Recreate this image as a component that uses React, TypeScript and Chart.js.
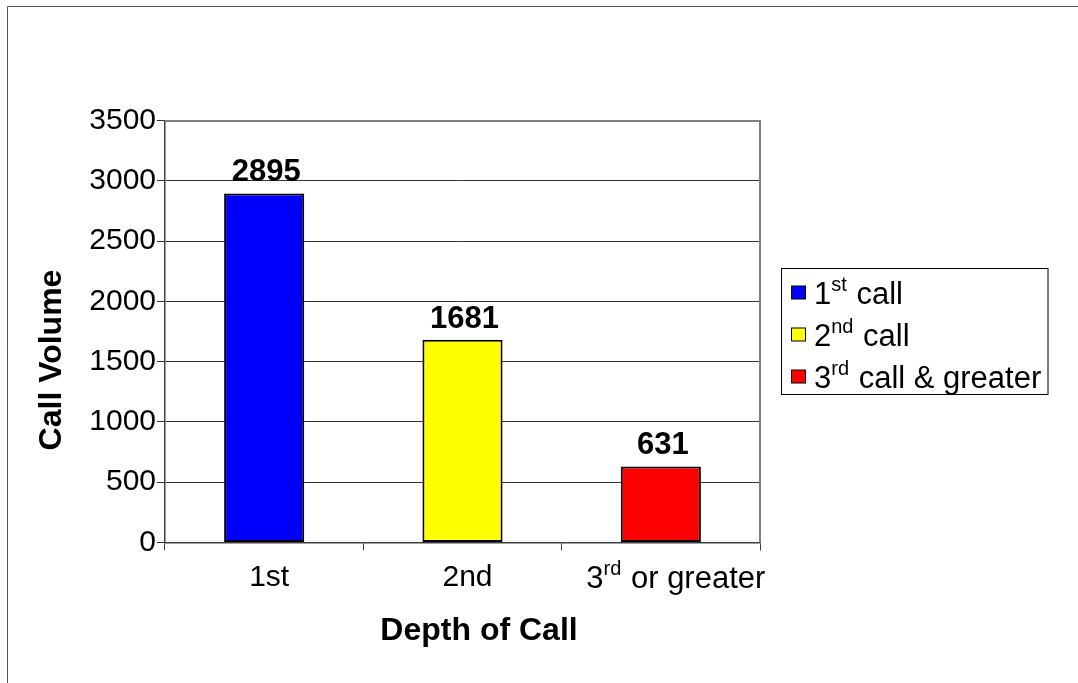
import React, { useEffect, useRef } from 'react';
import { Chart, registerables } from 'chart.js';

Chart.register(...registerables);

// ---- data ----
const categories = ['1st', '2nd', '3^{rd} or greater'];
const callVolume = [2895, 1681, 631];
const legendLabels = ['1^{st} call', '2^{nd} call', '3^{rd} call & greater'];
const barColors = ['#0000FF', '#FFFF00', '#FF0000'];
const yMin = 0;
const yMax = 3500;
const yStep = 500;
const yAxisTitle = 'Call Volume';
const xAxisTitle = 'Depth of Call';

const FONT = '"Liberation Sans", Arial, sans-serif';
const TICK_SIZE = 30;
const LABEL_SIZE = 31;
const TITLE_SIZE = 32;
const LEGEND_SIZE = 31;

type Seg = { text: string; sup: boolean };
function parseRich(s: string): Seg[] {
  const out: Seg[] = [];
  const re = /\^\{([^}]*)\}/g;
  let last = 0;
  let m: RegExpExecArray | null;
  while ((m = re.exec(s))) {
    if (m.index > last) out.push({ text: s.slice(last, m.index), sup: false });
    out.push({ text: m[1], sup: true });
    last = m.index + m[0].length;
  }
  if (last < s.length) out.push({ text: s.slice(last), sup: false });
  return out;
}
const plainText = (s: string) => parseRich(s).map((x) => x.text).join('');
const isRich = (s: string) => /\^\{/.test(s);

function drawRich(
  ctx: CanvasRenderingContext2D,
  s: string,
  x: number,
  baseline: number,
  align: 'left' | 'center' | 'right',
  size: number,
  weight: string
) {
  const segs = parseRich(s);
  const supSize = Math.round(size * 0.66);
  const fontFor = (sup: boolean) => `${weight} ${sup ? supSize : size}px ${FONT}`;
  let total = 0;
  const widths = segs.map((sg) => {
    ctx.font = fontFor(sg.sup);
    const w = ctx.measureText(sg.text).width + (sg.sup ? 1 : 0);
    total += w;
    return w;
  });
  let cx = align === 'center' ? x - total / 2 : align === 'right' ? x - total : x;
  ctx.textAlign = 'left';
  ctx.textBaseline = 'alphabetic';
  segs.forEach((sg, i) => {
    ctx.font = fontFor(sg.sup);
    ctx.fillText(sg.text, cx, sg.sup ? baseline - size * 0.43 : baseline);
    cx += widths[i];
  });
}

const X_TICK_LEN = 8;
const X_TICK_PAD = 9;

const decorPlugin = {
  id: 'decor',
  beforeDraw(chart: any) {
    const ctx = chart.ctx as CanvasRenderingContext2D;
    ctx.save();
    ctx.strokeStyle = '#555';
    ctx.lineWidth = 1;
    ctx.beginPath();
    ctx.moveTo(7.5, chart.height);
    ctx.lineTo(7.5, 6.5);
    ctx.lineTo(chart.width, 6.5);
    ctx.stroke();
    ctx.restore();
  },
  afterDraw(chart: any) {
    const ctx = chart.ctx as CanvasRenderingContext2D;
    const area = chart.chartArea;
    ctx.save();
    // plot area border (top & right)
    ctx.strokeStyle = '#808080';
    ctx.lineWidth = 2;
    ctx.beginPath();
    ctx.moveTo(area.left, area.top + 0.5);
    ctx.lineTo(area.right, area.top + 0.5);
    ctx.lineTo(area.right, area.bottom);
    ctx.stroke();

    ctx.fillStyle = '#000';
    // data labels
    const meta = chart.getDatasetMeta(0);
    meta.data.forEach((el: any, i: number) => {
      ctx.font = `bold ${LABEL_SIZE}px ${FONT}`;
      ctx.textAlign = 'center';
      ctx.textBaseline = 'alphabetic';
      ctx.fillText(String(callVolume[i]), el.x + 2, el.y - 12);
    });

    // rich x tick labels
    const xs = chart.scales.x;
    const y0 = xs.top + X_TICK_LEN + X_TICK_PAD;
    ctx.font = `${TICK_SIZE}px ${FONT}`;
    ctx.textBaseline = 'alphabetic';
    const mm = ctx.measureText('M');
    const asc = (mm as any).fontBoundingBoxAscent ?? TICK_SIZE * 0.905;
    const desc = (mm as any).fontBoundingBoxDescent ?? TICK_SIZE * 0.212;
    const baseX = y0 + (TICK_SIZE * 1.2) / 2 + (asc - desc) / 2;
    categories.forEach((c, i) => {
      if (isRich(c)) {
        drawRich(ctx, c, xs.getPixelForTick(i) + 15, baseX, 'center', TICK_SIZE + 1, 'normal');
      }
    });

    // axis titles
    ctx.font = `bold ${TITLE_SIZE}px ${FONT}`;
    ctx.textAlign = 'center';
    ctx.textBaseline = 'alphabetic';
    ctx.fillText(xAxisTitle, 479, 640);
    ctx.save();
    ctx.translate(61, 360);
    ctx.rotate(-Math.PI / 2);
    ctx.fillText(yAxisTitle, 0, 0);
    ctx.restore();

    // legend
    const lx = 781.5, ly = 268.5, lw = 266.5, lh = 126;
    ctx.strokeStyle = '#000';
    ctx.lineWidth = 1;
    ctx.strokeRect(lx, ly, lw, lh);
    legendLabels.forEach((lab, i) => {
      const rowBase = 304 + i * 42;
      ctx.fillStyle = barColors[i];
      ctx.fillRect(791.5, rowBase - 18, 14, 13);
      ctx.strokeStyle = '#000';
      ctx.strokeRect(791.5, rowBase - 18, 14, 13);
      ctx.fillStyle = '#000';
      drawRich(ctx, lab, 814, rowBase, 'left', LEGEND_SIZE, 'normal');
    });
    ctx.restore();
  },
};

export default function App() {
  const ref = useRef<HTMLCanvasElement | null>(null);
  useEffect(() => {
    if (!ref.current) return;
    const chart = new Chart(ref.current, {
      type: 'bar',
      data: {
        labels: categories.map(plainText),
        datasets: [
          {
            data: callVolume,
            backgroundColor: barColors,
            borderColor: '#000',
            borderWidth: 2,
            borderSkipped: false,
            barPercentage: 0.404,
            categoryPercentage: 1,
          },
        ],
      },
      options: {
        responsive: false,
        animation: false,
        events: [],
        layout: { padding: { left: 0, top: 120.5, right: 318, bottom: 0 } },
        plugins: {
          legend: { display: false },
          title: { display: false },
          tooltip: { enabled: false },
        },
        scales: {
          x: {
            afterFit: (s: any) => {
              s.height = 140.5;
            },
            grid: {
              display: true,
              drawOnChartArea: false,
              drawTicks: true,
              tickLength: X_TICK_LEN,
              color: '#404040',
              lineWidth: 1,
            },
            border: { display: true, color: '#404040', width: 1.5 },
            ticks: {
              padding: X_TICK_PAD,
              labelOffset: 5,
              font: { family: FONT, size: TICK_SIZE },
              color: (c: any) => (isRich(categories[c.index] ?? '') ? 'rgba(0,0,0,0)' : '#000'),
              maxRotation: 0,
              autoSkip: false,
            },
          },
          y: {
            min: yMin,
            max: yMax,
            afterFit: (s: any) => {
              s.width = 165;
            },
            grid: {
              color: '#333',
              lineWidth: 1,
              tickLength: 8,
              drawTicks: true,
            },
            border: { display: true, color: '#404040', width: 1.5 },
            ticks: {
              stepSize: yStep,
              padding: 1,
              font: { family: FONT, size: TICK_SIZE },
              color: '#000',
              callback: (v: any) => String(v),
            },
          },
        },
      },
      plugins: [decorPlugin],
    } as any);
    return () => chart.destroy();
  }, []);
  return (
    <div style={{ position: 'fixed', left: 0, top: 0, width: 1078, height: 683, background: '#fff' }}>
      <canvas ref={ref} width={1078} height={683} style={{ display: 'block' }} />
    </div>
  );
}
